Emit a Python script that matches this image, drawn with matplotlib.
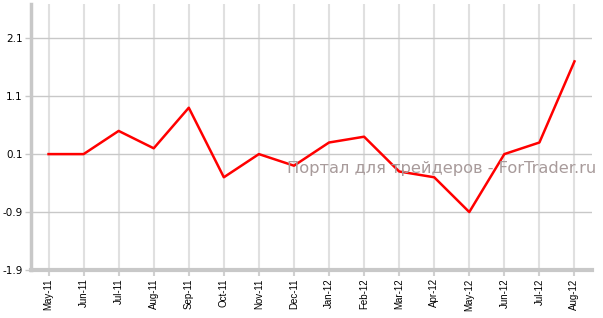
import matplotlib
matplotlib.use("Agg")
import matplotlib.pyplot as plt

months = ["May-11", "Jun-11", "Jul-11", "Aug-11", "Sep-11", "Oct-11", "Nov-11", "Dec-11",
          "Jan-12", "Feb-12", "Mar-12", "Apr-12", "May-12", "Jun-12", "Jul-12", "Aug-12"]
values = [0.1, 0.1, 0.5, 0.2, 0.9, -0.3, 0.1, -0.1, 0.3, 0.4, -0.2, -0.3, -0.9, 0.1, 0.3, 1.7]
yticks = [-1.9, -0.9, 0.1, 1.1, 2.1]
ytick_labels = ["-1.9", "-0.9", "0.1", "1.1", "2.1"]
watermark = "Портал для трейдеров - ForTrader.ru"

W, H = 603, 318
fig = plt.figure(figsize=(W / 100, H / 100), dpi=100)
ax = fig.add_axes([31 / W, (H - 270) / H, (592 - 31) / W, (270 - 4) / H])

x = list(range(len(months)))
ax.plot(x, values, color="#ff0000", linewidth=1.8, zorder=3)

ax.set_xlim(-0.5, len(months) - 0.5)
ax.set_ylim(-1.9, 2.69)
ax.set_xticks(x)
ax.set_xticklabels(months, rotation=90, fontsize=7, family="Liberation Sans")
ax.set_yticks(yticks)
ax.set_yticklabels(ytick_labels, fontsize=7.5, family="DejaVu Sans")

ax.grid(axis="x", color="#e0e0e0", linewidth=1.5, zorder=0)
ax.grid(axis="y", color="#c8c8c8", linewidth=1.0, zorder=0)
ax.tick_params(axis="x", length=4, color="#d0d0d0", width=1.5, pad=2)
ax.tick_params(axis="y", length=4, color="#c8c8c8", width=1.0, pad=2)

for s in ["top", "right"]:
    ax.spines[s].set_visible(False)
ax.spines["left"].set_color("#c8c8c8")
ax.spines["left"].set_linewidth(2.5)
ax.spines["bottom"].set_color("#c8c8c8")
ax.spines["bottom"].set_linewidth(3)

fig.text(596 / W, 1 - 169 / H, watermark, ha="right", va="center", fontsize=11.7,
         color="#a89b9b", family="DejaVu Sans", zorder=5)

fig.savefig("out.png", dpi=100)
